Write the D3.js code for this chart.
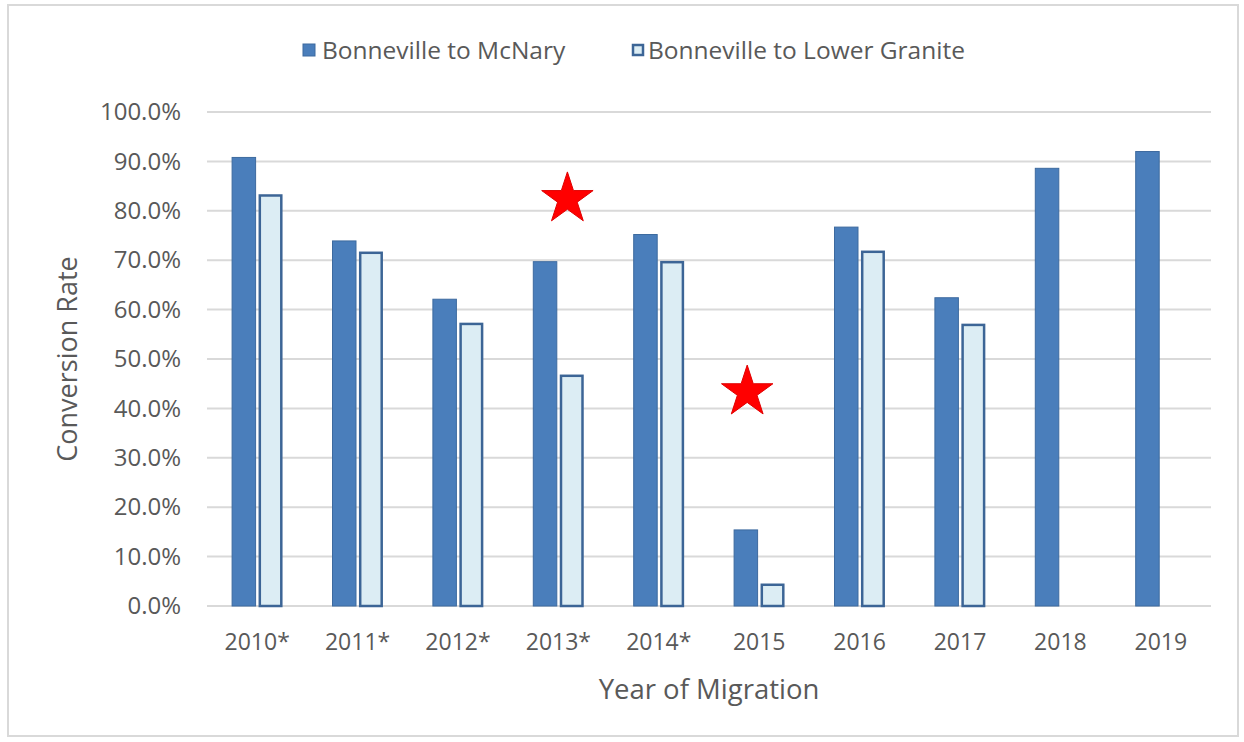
<!DOCTYPE html>
<html>
<head>
<meta charset="utf-8">
<script src="https://cdn.jsdelivr.net/npm/d3@7"></script>
<style>
  html, body { margin: 0; padding: 0; background: #fff; }
  svg { display: block; font-family: "Open Sans", "Noto Sans", sans-serif; }
</style>
</head>
<body>
<svg id="chart"></svg>
<script>
// chart values
const years = ["2010*", "2011*", "2012*", "2013*", "2014*", "2015", "2016", "2017", "2018", "2019"];
const seriesNames = ["Bonneville to McNary", "Bonneville to Lower Granite"];
const mcnary = [90.8, 73.9, 62.1, 69.7, 75.2, 15.4, 76.7, 62.4, 88.6, 92.0];
const lowerGranite = [83.1, 71.5, 57.1, 46.6, 69.6, 4.3, 71.7, 56.9, null, null];
const yTicks = [0, 10, 20, 30, 40, 50, 60, 70, 80, 90, 100];
// red star markers: [year, value]
const stars = [["2013*", 82.4], ["2015", 43.3]];

const width = 1244, height = 742;
const margin = { top: 112, right: 33, bottom: 136, left: 207 };
const colors = { fill: ["#4a7ebb", "#dcedf4"], stroke: ["#3d6a9f", "#3c6596"] };
const textColor = "#595959";

const svg = d3.select("#chart").attr("width", width).attr("height", height);

svg.append("rect")
    .attr("x", 8).attr("y", 5)
    .attr("width", 1230).attr("height", 731)
    .attr("fill", "#fff")
    .attr("stroke", "#d9d9d9")
    .attr("stroke-width", 2);

const x = d3.scaleBand()
    .domain(years)
    .range([margin.left, width - margin.right])
    .paddingInner(0.5)
    .paddingOuter(0.25);

const x1 = d3.scaleBand()
    .domain(seriesNames)
    .range([0, x.bandwidth()])
    .paddingInner(0.12);

const y = d3.scaleLinear()
    .domain([0, 100])
    .range([height - margin.bottom, margin.top]);

// gridlines
svg.append("g")
    .selectAll("line")
    .data(yTicks)
    .join("line")
    .attr("x1", margin.left)
    .attr("x2", width - margin.right)
    .attr("y1", (d) => y(d))
    .attr("y2", (d) => y(d))
    .attr("stroke", "#d9d9d9")
    .attr("stroke-width", 2);

// y axis labels
const yAxis = svg.append("g")
    .attr("transform", `translate(${margin.left - 24},0)`)
    .call(d3.axisLeft(y).tickValues(yTicks).tickSize(0).tickPadding(2).tickFormat((d) => d.toFixed(1) + "%"));
yAxis.attr("font-family", null).attr("font-size", null);
yAxis.select(".domain").remove();
yAxis.selectAll("text")
    .attr("fill", textColor)
    .style("font-size", "24px");

// x axis labels
const xAxis = svg.append("g")
    .attr("transform", `translate(0,${height - margin.bottom})`)
    .call(d3.axisBottom(x).tickSize(0).tickPadding(28));
xAxis.attr("font-family", null).attr("font-size", null);
xAxis.select(".domain").remove();
xAxis.selectAll("text")
    .attr("fill", textColor)
    .style("font-size", "23px");

// bars
const rows = years.map((yr, i) => ({ year: yr, values: [mcnary[i], lowerGranite[i]] }));

const groups = svg.append("g")
    .selectAll("g")
    .data(rows)
    .join("g")
    .attr("transform", (d) => `translate(${x(d.year)},0)`);

groups.selectAll("rect")
    .data((d) => d.values.map((v, k) => ({ key: seriesNames[k], k, v })).filter((e) => e.v != null))
    .join("rect")
    .attr("x", (d) => x1(d.key) + (d.k === 1 ? 1 : 0))
    .attr("y", (d) => y(d.v))
    .attr("width", (d) => x1.bandwidth() - (d.k === 1 ? 2 : 0))
    .attr("height", (d) => y(0) - y(d.v))
    .attr("fill", (d) => colors.fill[d.k])
    .attr("stroke", (d) => colors.stroke[d.k])
    .attr("stroke-width", (d) => (d.k === 1 ? 2.5 : 1));

// stars
const starOffsets = [9, -12];
svg.append("g")
    .selectAll("path")
    .data(stars)
    .join("path")
    .attr("transform", (d, i) => `translate(${x(d[0]) + x.bandwidth() / 2 + starOffsets[i]},${y(d[1])})`)
    .attr("d", d3.symbol(d3.symbolStar, 820))
    .attr("fill", "#ff0000")
    .attr("stroke", "#e00000")
    .attr("stroke-width", 1);

// axis titles
svg.append("text")
    .attr("transform", `translate(77,${(margin.top + height - margin.bottom) / 2}) rotate(-90)`)
    .attr("text-anchor", "middle")
    .attr("fill", textColor)
    .style("font-size", "27px")
    .text("Conversion Rate");

svg.append("text")
    .attr("x", (margin.left + width - margin.right) / 2)
    .attr("y", 699)
    .attr("text-anchor", "middle")
    .attr("fill", textColor)
    .style("font-size", "27.5px")
    .text("Year of Migration");

// legend
const legend = svg.append("g").attr("transform", "translate(303,44)");
const legendX = [0, 329];
const items = legend.selectAll("g")
    .data(seriesNames)
    .join("g")
    .attr("transform", (d, i) => `translate(${legendX[i]},0)`);
items.append("rect")
    .attr("x", (d, i) => (i === 1 ? 1 : 0))
    .attr("y", (d, i) => (i === 1 ? 1 : 0))
    .attr("width", (d, i) => (i === 1 ? 10 : 12))
    .attr("height", (d, i) => (i === 1 ? 10 : 12))
    .attr("fill", (d, i) => colors.fill[i])
    .attr("stroke", (d, i) => colors.stroke[i])
    .attr("stroke-width", (d, i) => (i === 1 ? 2.5 : 1));
items.append("text")
    .attr("x", (d, i) => (i === 1 ? 16 : 19))
    .attr("y", 15)
    .attr("fill", textColor)
    .style("font-size", "24.5px")
    .text((d) => d);
</script>
</body>
</html>
